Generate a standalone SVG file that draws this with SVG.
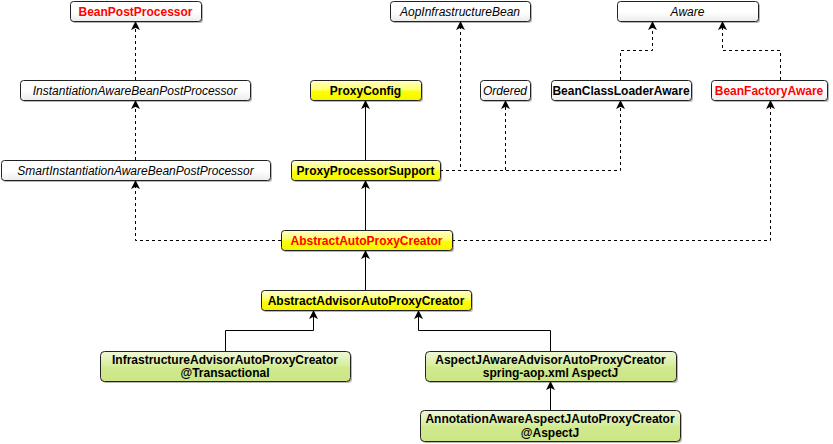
<svg xmlns="http://www.w3.org/2000/svg" width="833" height="444" viewBox="0 0 833 444">
<defs>
<linearGradient id="gW" x1="0" y1="0" x2="0" y2="1">
<stop offset="0" stop-color="#ffffff"/><stop offset="0.5" stop-color="#ffffff"/><stop offset="1" stop-color="#ececec"/>
</linearGradient>
<linearGradient id="gY" x1="0" y1="0" x2="0" y2="1">
<stop offset="0" stop-color="#ffffc8"/><stop offset="0.45" stop-color="#ffff70"/><stop offset="0.55" stop-color="#ffff00"/><stop offset="1" stop-color="#f4f400"/>
</linearGradient>
<linearGradient id="gG" x1="0" y1="0" x2="0" y2="1">
<stop offset="0" stop-color="#eef7d8"/><stop offset="0.45" stop-color="#d8ee9f"/><stop offset="0.55" stop-color="#cfe98c"/><stop offset="1" stop-color="#cbe587"/>
</linearGradient>
<marker id="arr" viewBox="0 0 10 10" refX="9" refY="5" markerWidth="9" markerHeight="9" markerUnits="userSpaceOnUse" orient="auto">
<path d="M0,0 L10,5 L0,10 L2.5,5 z" fill="#000"/>
</marker>
</defs>
<style>
.sh{fill:#000;opacity:0.28}
.bx{stroke:#222;stroke-width:1}
.w{fill:url(#gW)}
.y{fill:url(#gY)}
.g{fill:url(#gG)}
text{font-family:"Liberation Sans",Arial,sans-serif;font-size:12px;text-anchor:middle}
.b{font-weight:bold;fill:#000}
.r{font-weight:bold;fill:#ff0000}
.i{font-style:italic;fill:#000}
.c{fill:none;stroke:#000;stroke-width:1;marker-end:url(#arr)}
.d{stroke-dasharray:3,3}
</style>
<rect width="833" height="444" fill="#fff"/>
<g id="connectors">
<path class="c d" d="M135.5,80 V22"/>
<path class="c d" d="M135.5,160 V101"/>
<path class="c d" d="M281,240.5 H135.5 V181"/>
<path class="c" d="M365.5,230 V181"/>
<path class="c" d="M365.5,160 V101"/>
<path class="c d" d="M440,170.5 H460.5 V22"/>
<path class="c d" d="M440,170.5 H505.5 V101"/>
<path class="c d" d="M440,170.5 H620.5 V101"/>
<path class="c d" d="M620.5,80 V50.5 H652.5 V22"/>
<path class="c d" d="M780.5,80 V50.5 H722.5 V22"/>
<path class="c d" d="M452,240.5 H770.5 V101"/>
<path class="c" d="M365.5,290 V251"/>
<path class="c" d="M225.5,351 V330.5 H313.5 V311"/>
<path class="c" d="M550.5,351 V330.5 H418.5 V311"/>
<path class="c" d="M550.5,410 V382"/>
</g>
<g id="BeanPostProcessor"><rect class="sh" x="72" y="3" width="131" height="20" rx="3"/><rect class="bx w" x="70.5" y="1.5" width="131" height="20" rx="3"/><text class="r" x="135.5" y="15.5">BeanPostProcessor</text></g>
<g id="InstantiationAwareBeanPostProcessor"><rect class="sh" x="22" y="82" width="230" height="20" rx="3"/><rect class="bx w" x="20.5" y="80.5" width="230" height="20" rx="3"/><text class="i" x="135" y="94.5">InstantiationAwareBeanPostProcessor</text></g>
<g id="SmartInstantiationAwareBeanPostProcessor"><rect class="sh" x="3" y="162" width="269" height="20" rx="3"/><rect class="bx w" x="1.5" y="160.5" width="269" height="20" rx="3"/><text class="i" x="135.5" y="174.5">SmartInstantiationAwareBeanPostProcessor</text></g>
<g id="AopInfrastructureBean"><rect class="sh" x="392" y="3" width="140" height="20" rx="3"/><rect class="bx w" x="390.5" y="1.5" width="140" height="20" rx="3"/><text class="i" x="460" y="15.5">AopInfrastructureBean</text></g>
<g id="Aware"><rect class="sh" x="619" y="3" width="141" height="20" rx="3"/><rect class="bx w" x="617.5" y="1.5" width="141" height="20" rx="3"/><text class="i" x="687.5" y="15.5">Aware</text></g>
<g id="ProxyConfig"><rect class="sh" x="312" y="82" width="111" height="20" rx="3"/><rect class="bx y" x="310.5" y="80.5" width="111" height="20" rx="3"/><text class="b" x="365.5" y="94.5">ProxyConfig</text></g>
<g id="Ordered"><rect class="sh" x="482" y="82" width="50" height="20" rx="3"/><rect class="bx w" x="480.5" y="80.5" width="50" height="20" rx="3"/><text class="i" x="505" y="94.5">Ordered</text></g>
<g id="BeanClassLoaderAware"><rect class="sh" x="553" y="82" width="140" height="20" rx="3"/><rect class="bx w" x="551.5" y="80.5" width="140" height="20" rx="3"/><text class="b" x="621" y="94.5">BeanClassLoaderAware</text></g>
<g id="BeanFactoryAware"><rect class="sh" x="713" y="82" width="116" height="20" rx="3"/><rect class="bx w" x="711.5" y="80.5" width="116" height="20" rx="3"/><text class="r" x="769" y="94.5">BeanFactoryAware</text></g>
<g id="ProxyProcessorSupport"><rect class="sh" x="293" y="162" width="149" height="20" rx="3"/><rect class="bx y" x="291.5" y="160.5" width="149" height="20" rx="3"/><text class="b" x="365.5" y="174.5">ProxyProcessorSupport</text></g>
<g id="AbstractAutoProxyCreator"><rect class="sh" x="283" y="232" width="171" height="20" rx="3"/><rect class="bx y" x="281.5" y="230.5" width="171" height="20" rx="3"/><text class="r" x="366.5" y="244.5">AbstractAutoProxyCreator</text></g>
<g id="AbstractAdvisorAutoProxyCreator"><rect class="sh" x="263" y="292" width="210" height="20" rx="3"/><rect class="bx y" x="261.5" y="290.5" width="210" height="20" rx="3"/><text class="b" x="366" y="304.5">AbstractAdvisorAutoProxyCreator</text></g>
<g id="InfrastructureAdvisorAutoProxyCreator"><rect class="sh" x="102" y="353" width="250" height="30" rx="4"/><rect class="bx g" x="100.5" y="351.5" width="250" height="30" rx="4"/><text class="b" x="225" y="363.5">InfrastructureAdvisorAutoProxyCreator</text><text class="b" x="225" y="377">@Transactional</text></g>
<g id="AspectJAwareAdvisorAutoProxyCreator"><rect class="sh" x="427" y="353" width="251" height="30" rx="4"/><rect class="bx g" x="425.5" y="351.5" width="251" height="30" rx="4"/><text class="b" x="550.5" y="363.5">AspectJAwareAdvisorAutoProxyCreator</text><text class="b" x="550.5" y="377">spring-aop.xml AspectJ</text></g>
<g id="AnnotationAwareAspectJAutoProxyCreator"><rect class="sh" x="422" y="412" width="260" height="31" rx="4"/><rect class="bx g" x="420.5" y="410.5" width="260" height="31" rx="4"/><text class="b" x="550" y="423">AnnotationAwareAspectJAutoProxyCreator</text><text class="b" x="550" y="437">@AspectJ</text></g>
</svg>
